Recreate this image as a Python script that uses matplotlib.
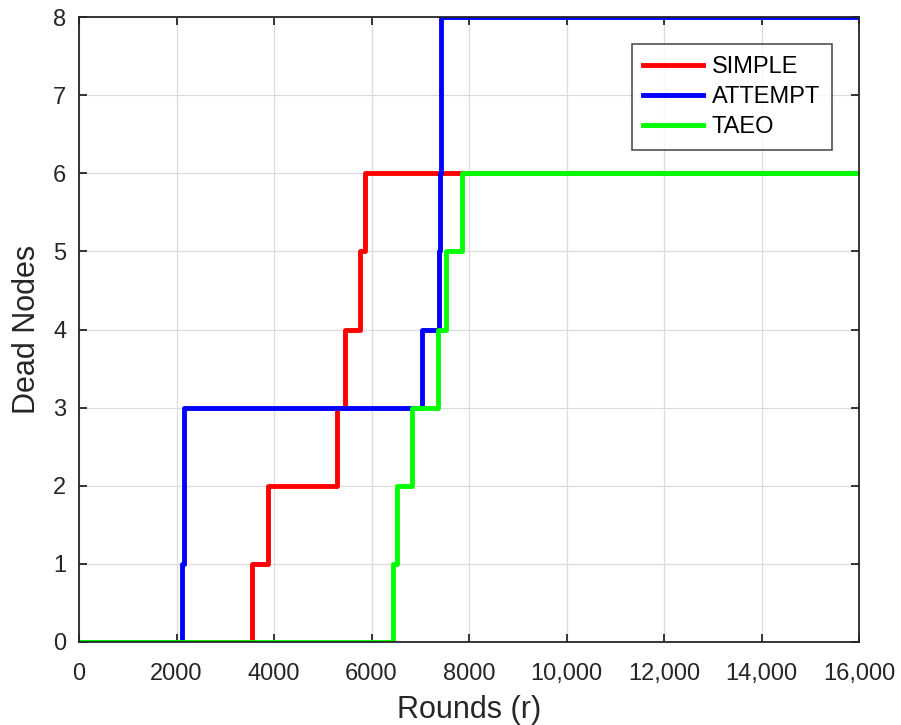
import matplotlib
matplotlib.use("Agg")
import matplotlib.pyplot as plt
from matplotlib.ticker import FixedLocator

plt.rcParams['font.family'] = ['Liberation Sans', 'DejaVu Sans']

# Data (rounds at which dead-node count changes)
simple_x = [0, 3550, 3880, 5300, 5450, 5770, 5870, 16000]
simple_y = [0, 1, 2, 3, 4, 5, 6, 6]
attempt_x = [0, 2120, 2150, 7040, 7380, 7410, 7420, 7425, 16000]
attempt_y = [0, 1, 3, 4, 5, 6, 7, 8, 8]
taeo_x = [0, 6440, 6520, 6830, 7365, 7530, 7860, 16000]
taeo_y = [0, 1, 2, 3, 4, 5, 6, 6]

xticks = [0, 2000, 4000, 6000, 8000, 10000, 12000, 14000, 16000]
xticklabels = ['0', '2000', '4000', '6000', '8000', '10,000', '12,000', '14,000', '16,000']
yticks = [0, 1, 2, 3, 4, 5, 6, 7, 8]

fig = plt.figure(figsize=(9.01, 7.25), dpi=100)
ax = fig.add_axes([79/901, 1-642/725, (859-79)/901, (642-17)/725])

lw = 3.5
ax.step(simple_x, simple_y, where='post', color='#ff0000', lw=lw, label='SIMPLE')
ax.step(attempt_x, attempt_y, where='post', color='#0000ff', lw=lw, label='ATTEMPT')
ax.step(taeo_x, taeo_y, where='post', color='#00ff00', lw=lw, label='TAEO')

ax.set_xlim(0, 16000)
ax.set_ylim(0, 8)
ax.xaxis.set_major_locator(FixedLocator(xticks))
ax.set_xticklabels(xticklabels)
ax.set_yticks(yticks)
ax.grid(True, color='#dcdcdc', lw=0.9)
ax.set_axisbelow(True)
for s in ax.spines.values():
    s.set_color('#262626')
    s.set_linewidth(1.3)
ax.tick_params(direction='in', top=True, right=True, length=6, width=1.3,
               colors='#262626', labelsize=17, labelcolor='#262626')
ax.tick_params(axis='x', pad=15)
ax.tick_params(axis='y', pad=9)
ax.set_xlabel('Rounds (r)', fontsize=22, color='#262626', labelpad=7)
ax.set_ylabel('Dead Nodes', fontsize=22, color='#262626', labelpad=8)

leg = ax.legend(loc='upper right', bbox_to_anchor=((832-79)/780, 1-(44-17)/625),
                borderaxespad=0, fontsize=17, frameon=True, fancybox=False,
                edgecolor='#262626', handlelength=2.5, borderpad=0.5,
                labelspacing=0.35, handletextpad=0.4)
leg.get_frame().set_linewidth(1.2)

fig.savefig('out.png', dpi=100)
